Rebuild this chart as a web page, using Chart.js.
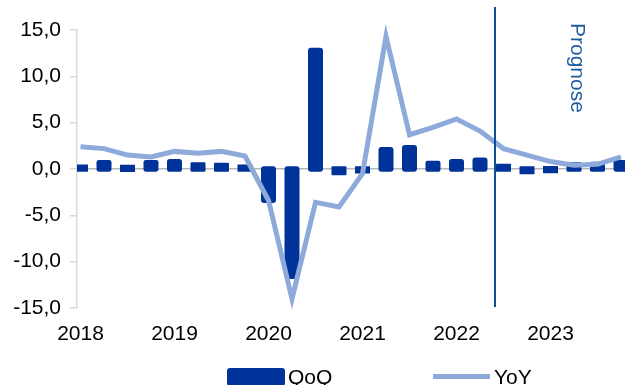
<!DOCTYPE html>
<html>
<head>
<meta charset="utf-8">
<script src="https://cdn.jsdelivr.net/npm/chart.js@4/dist/chart.umd.min.js"></script>
<style>
  body { margin: 0; overflow: hidden; background: #fff; }
  #wrap { position: relative; width: 625px; height: 385px; overflow: hidden; font-family: 'Liberation Sans', Arial, sans-serif; }
  .lg { position: absolute; font-size: 21px; line-height: 21px; color: #000; }
</style>
</head>
<body>
<div id="wrap">
  <canvas id="chart" width="625" height="385"></canvas>
  <div class="lg" style="left:227px;top:368px;width:58px;height:18px;background:#003399;border-radius:3px;"></div>
  <div class="lg" style="left:288px;top:366px;">QoQ</div>
  <div class="lg" style="left:433px;top:374px;width:57px;height:5px;background:#8eaadb;"></div>
  <div class="lg" style="left:494px;top:366px;">YoY</div>
</div>
<script>
// quarters 2018Q1 .. 2023Q4
const years = ['2018', '2019', '2020', '2021', '2022', '2023'];
const qoq = [0.1, 0.6, 0.05, 0.6, 0.7, 0.35, 0.3, 0.1,
  -3.3, -11.5, 12.7, -0.3, -0.1, 2.0, 2.2, 0.5,
  0.7, 0.85, 0.2, -0.2, -0.05, 0.35, 0.4, 0.6];
const yoy = [2.4, 2.2, 1.5, 1.3, 1.9, 1.7, 1.9, 1.4,
  -3.4, -14.0, -3.6, -4.1, -0.5, 14.3, 3.7, 4.5,
  5.4, 4.1, 2.2, 1.5, 0.8, 0.4, 0.5, 1.3];
const forecastStart = 17.65; // between 2022Q2 and 2022Q3

const font = { family: "'Liberation Sans', Arial, sans-serif", size: 21 };

// vertical forecast line + label
const prognose = {
  id: 'prognose',
  afterDatasetsDraw(chart) {
    const ctx = chart.ctx;
    const x = Math.round(chart.scales.x.getPixelForValue(forecastStart));
    ctx.save();
    ctx.strokeStyle = '#0b4f9b';
    ctx.lineWidth = 2;
    ctx.beginPath();
    ctx.moveTo(x, 7);
    ctx.lineTo(x, 307);
    ctx.stroke();
    ctx.translate(577, 23);
    ctx.rotate(Math.PI / 2);
    ctx.fillStyle = '#1f5c9e';
    ctx.font = "21px 'Liberation Sans', Arial, sans-serif";
    ctx.textAlign = 'left';
    ctx.textBaseline = 'middle';
    ctx.fillText('Prognose', 0, 0);
    ctx.restore();
  }
};

new Chart(document.getElementById('chart'), {
  data: {
    datasets: [{
      type: 'line',
      label: 'YoY',
      data: yoy.map((v, i) => ({ x: i, y: v })),
      borderColor: '#8eaadb',
      borderWidth: 5,
      pointRadius: 0,
      tension: 0,
      clip: false,
      order: 0
    }, {
      type: 'bar',
      label: 'QoQ',
      data: qoq.map((v, i) => ({ x: i, y: v })),
      backgroundColor: '#003399',
      barThickness: 8,
      inflateAmount: 3.5,
      borderRadius: 3,
      borderSkipped: false,
      order: 1
    }]
  },
  options: {
    responsive: false,
    animation: false,
    layout: { padding: { top: 30, right: 0 } },
    plugins: { legend: { display: false }, tooltip: { enabled: false } },
    scales: {
      x: {
        type: 'linear',
        offset: false,
        min: -0.149,
        max: 23.17,
        grid: { display: false, drawTicks: false, offset: false },
        border: { display: false },
        afterBuildTicks: axis => { axis.ticks = years.map((y, i) => ({ value: i * 4 })); },
        afterFit: scale => { scale.height = 77; },
        ticks: {
          font: font,
          color: '#000',
          padding: 14,
          maxRotation: 0,
          autoSkip: false,
          callback: v => years[v / 4]
        }
      },
      y: {
        min: -15,
        max: 15,
        z: 1,
        afterFit: scale => { scale.width = 77; },
        grid: {
          color: c => c.tick && c.tick.value === 0 ? '#b8b8b8' : 'transparent',
          tickColor: '#d9d9d9',
          tickLength: 7,
          lineWidth: 1.5
        },
        border: { color: '#d9d9d9', width: 1.5 },
        ticks: {
          stepSize: 5,
          font: font,
          color: '#000',
          padding: 9,
          callback: v => v.toFixed(1).replace('.', ',')
        }
      }
    }
  },
  plugins: [prognose]
});
</script>
</body>
</html>
